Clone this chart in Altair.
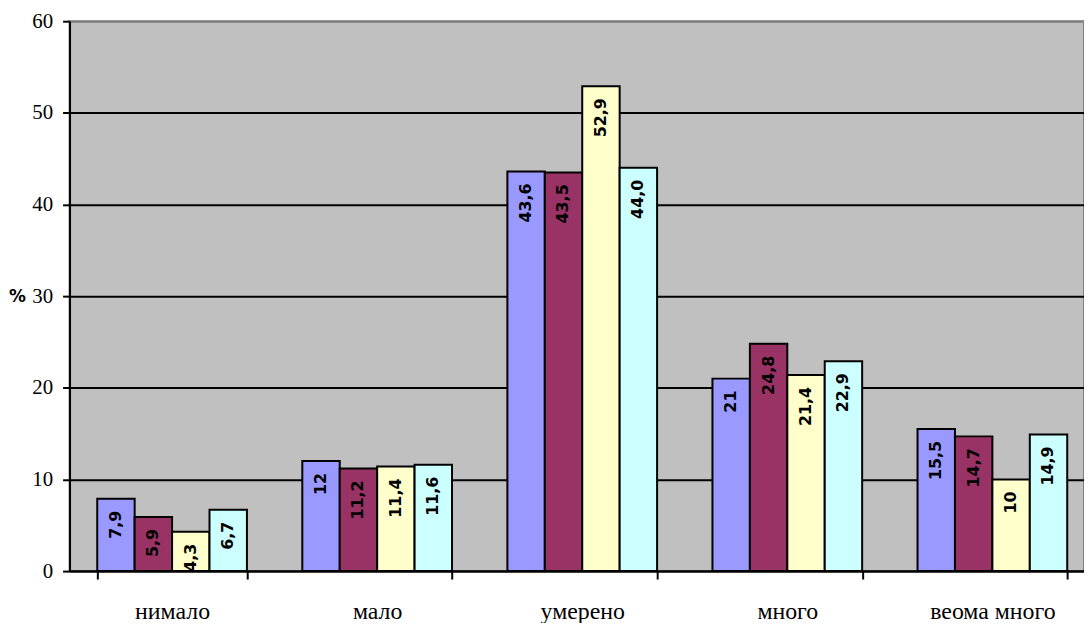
import altair as alt
import pandas as pd

categories = ["нимало", "мало", "умерено", "много", "веома много"]
series = ["s1", "s2", "s3", "s4"]
colors = ["#9999FF", "#993366", "#FFFFCC", "#CCFFFF"]

s1 = [7.9, 12, 43.6, 21, 15.5]
s2 = [5.9, 11.2, 43.5, 24.8, 14.7]
s3 = [4.3, 11.4, 52.9, 21.4, 10]
s4 = [6.7, 11.6, 44.0, 22.9, 14.9]

l1 = ["7,9", "12", "43,6", "21", "15,5"]
l2 = ["5,9", "11,2", "43,5", "24,8", "14,7"]
l3 = ["4,3", "11,4", "52,9", "21,4", "10"]
l4 = ["6,7", "11,6", "44,0", "22,9", "14,9"]

y_ticks = [0, 10, 20, 30, 40, 50, 60]
title_text = "округа у 2025. години"

rows = []
for sname, vals, labs in zip(series, [s1, s2, s3, s4], [l1, l2, l3, l4]):
    for c, v, lab in zip(categories, vals, labs):
        rows.append({"cat": c, "series": sname, "value": v, "label": lab})
df = pd.DataFrame(rows)

PLOT_W = 1022
PLOT_H = 554
FULL_W = 1033
SERIF = "Liberation Serif, Times New Roman, serif"

x_enc = alt.X(
    "cat:N",
    sort=categories,
    scale=alt.Scale(paddingInner=0.27, paddingOuter=0.135, range=[0, FULL_W]),
    axis=alt.Axis(
        title=None,
        labelAngle=0,
        labelFont=SERIF,
        labelFontSize=24,
        labelColor="black",
        labelPadding=21,
        tickBand="extent",
        tickSize=8,
        tickWidth=2,
        tickColor="black",
        domainColor="black",
        domainWidth=2,
        grid=False,
    ),
)
xoff = alt.XOffset("series:N", sort=series, scale=alt.Scale(paddingInner=0, paddingOuter=0))
y_enc = alt.Y(
    "value:Q",
    scale=alt.Scale(domain=[0, 60], nice=False),
    axis=alt.Axis(
        values=y_ticks,
        title="%",
        titleAngle=0,
        titleX=-53,
        titleY=277,
        titleAlign="center",
        titleBaseline="middle",
        titleFont="DejaVu Sans",
        titleFontSize=17,
        titleFontWeight="bold",
        titleColor="black",
        labelFont=SERIF,
        labelFontSize=21,
        labelColor="black",
        labelPadding=10,
        tickSize=7,
        tickWidth=2,
        tickColor="black",
        domainColor="black",
        domainWidth=2,
        grid=True,
        gridColor={"condition": {"test": "datum.value >= 60", "value": "#808080"}, "value": "black"},
        gridWidth=2,
    ),
)

bars = alt.Chart(df).mark_bar(stroke="black", strokeWidth=2).encode(
    x=x_enc,
    xOffset=xoff,
    y=y_enc,
    color=alt.Color("series:N", sort=series, scale=alt.Scale(domain=series, range=colors), legend=None),
)

texts = alt.Chart(df).mark_text(
    angle=270,
    align="right",
    baseline="middle",
    dx=-12,
    font="DejaVu Sans",
    fontSize=16,
    fontWeight="bold",
    color="black",
).encode(
    x=alt.X("cat:N", sort=categories),
    xOffset=alt.XOffset("series:N", sort=series),
    y=alt.Y("value:Q"),
    text="label:N",
)

chart = (
    alt.layer(bars, texts)
    .properties(
        width=PLOT_W,
        height=PLOT_H,
        background="white",
        title=alt.TitleParams(
            text=title_text,
            font=SERIF,
            fontSize=24,
            fontWeight="bold",
            color="black",
            anchor="middle",
            offset=3,
            dx=-5,
        ),
        padding={"left": 62, "top": 11, "right": 0, "bottom": 50},
        autosize=alt.AutoSizeParams(type="none"),
    )
    .configure_view(fill="#C0C0C0", stroke="#808080", strokeWidth=2)
)

chart.save("out.html", embed_options={"renderer": "svg", "actions": False})
